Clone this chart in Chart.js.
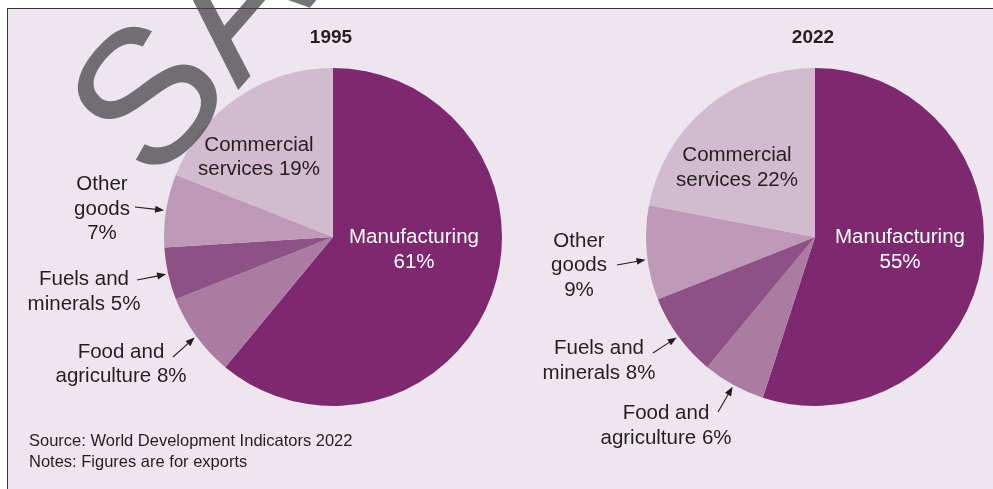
<!DOCTYPE html>
<html>
<head>
<meta charset="utf-8">
<script src="https://cdn.jsdelivr.net/npm/chart.js@4"></script>
<style>
  html, body { margin: 0; padding: 0; width: 993px; height: 489px; overflow: hidden; background: #ffffff; }
  body { position: relative; font-family: "Liberation Sans", Arial, Helvetica, sans-serif; }
  #frame { position: absolute; left: 7px; top: 8px; width: 1000px; height: 500px; background: #EEE6EE;
           border-top: 1.5px solid #333333; border-left: 1.5px solid #333333; }
  canvas { position: absolute; top: 0; }
  #pie1995 { left: 0; }
  #pie2022 { left: 520px; }
  .note { position: absolute; left: 29px; font-size: 16.5px; line-height: 21px; color: #231F20; white-space: nowrap; }
</style>
</head>
<body>
<div id="frame"></div>
<canvas id="pie1995" width="510" height="489"></canvas>
<canvas id="pie2022" width="473" height="489"></canvas>
<div class="note" style="top:430px">Source: World Development Indicators 2022<br>Notes: Figures are for exports</div>
<script>
// Export shares by sector, per cent
const categories = ['Manufacturing', 'Food and agriculture', 'Fuels and minerals', 'Other goods', 'Commercial services'];
const shares1995 = [61, 8, 5, 7, 19];
const shares2022 = [55, 6, 8, 9, 22];
const years = ['1995', '2022'];

// How each sector label is broken into lines ({v} is replaced by the share)
const labelLines = [
  ['Manufacturing', '{v}%'],
  ['Food and', 'agriculture {v}%'],
  ['Fuels and', 'minerals {v}%'],
  ['Other', 'goods', '{v}%'],
  ['Commercial', 'services {v}%']
];

const sliceColors = ['#7E2870', '#AB7CA2', '#8E5186', '#BE99B8', '#D3BBCF'];
const FONT = '"Liberation Sans", Arial, Helvetica, sans-serif';
const INK = '#231F20';

// Label placement relative to the pie centre; "from" is the arrow tail,
// the arrow head lands on the slice edge at fraction "at" of its angle.
const spots1995 = [
  { dx: 81, dy: 13, light: true },
  { dx: -212, dy: 127.5, from: [-160, 120] },
  { dx: -249, dy: 55, from: [-196, 43] },
  { dx: -231, dy: -28, from: [-198, -30] },
  { dx: -74, dy: -79.5 }
];
const spots2022 = [
  { dx: 85, dy: 13, light: true },
  { dx: -149, dy: 189, from: [-97, 175] },
  { dx: -216, dy: 124, from: [-162, 116] },
  { dx: -236, dy: 28.5, from: [-198, 28], at: 0.43 },
  { dx: -78, dy: -69 }
];

function drawArrow(ctx, fx, fy, tx, ty) {
  const ang = Math.atan2(ty - fy, tx - fx);
  const head = 9, half = 3.5;
  const bx = tx - Math.cos(ang) * head, by = ty - Math.sin(ang) * head;
  ctx.strokeStyle = INK;
  ctx.fillStyle = INK;
  ctx.lineWidth = 1.1;
  ctx.beginPath();
  ctx.moveTo(fx, fy);
  ctx.lineTo(bx + Math.cos(ang), by + Math.sin(ang));
  ctx.stroke();
  ctx.beginPath();
  ctx.moveTo(tx, ty);
  ctx.lineTo(bx + Math.sin(ang) * half, by - Math.cos(ang) * half);
  ctx.lineTo(bx - Math.sin(ang) * half, by + Math.cos(ang) * half);
  ctx.closePath();
  ctx.fill();
}

// Title, sector labels, arrows (and the sheet's stamp) drawn over the slices
function labelPlugin(title, spots, stamp) {
  return {
    id: 'sliceLabels',
    afterDatasetsDraw(chart) {
      const ctx = chart.ctx;
      const meta = chart.getDatasetMeta(0);
      const values = chart.data.datasets[0].data;
      const cx = meta.data[0].x, cy = meta.data[0].y;
      ctx.save();

      if (stamp) {
        ctx.save();
        ctx.translate(stamp.x, stamp.y);
        ctx.rotate(stamp.angle * Math.PI / 180);
        ctx.font = stamp.size + 'px ' + FONT;
        ctx.fillStyle = 'rgba(70,70,73,0.75)';
        ctx.textAlign = 'left';
        ctx.textBaseline = 'alphabetic';
        ctx.fillText(stamp.text, 0, 0);
        ctx.restore();
      }

      ctx.textAlign = 'center';
      ctx.textBaseline = 'middle';
      ctx.fillStyle = INK;
      ctx.font = 'bold 19px ' + FONT;
      ctx.fillText(title, cx - 2, cy - 199);

      ctx.font = '20.5px ' + FONT;
      const lh = 24.5;
      spots.forEach((spot, i) => {
        const lines = labelLines[i].map(t => t.replace('{v}', values[i]));
        const top = cy + spot.dy - (lines.length - 1) * lh / 2;
        ctx.fillStyle = spot.light ? '#FFFFFF' : INK;
        lines.forEach((t, k) => ctx.fillText(t, cx + spot.dx, top + k * lh));
        if (spot.from) {
          const arc = meta.data[i];
          const frac = (typeof spot.at === 'number') ? spot.at : 0.5;
          const a = arc.startAngle + (arc.endAngle - arc.startAngle) * frac;
          const r = arc.outerRadius + 2;
          drawArrow(ctx, cx + spot.from[0], cy + spot.from[1], cx + Math.cos(a) * r, cy + Math.sin(a) * r);
        }
      });
      ctx.restore();
    }
  };
}

function makePie(id, shares, title, spots, padding, stamp) {
  return new Chart(document.getElementById(id), {
    type: 'pie',
    data: {
      labels: categories,
      datasets: [{ data: shares, backgroundColor: sliceColors, borderWidth: 0 }]
    },
    options: {
      responsive: false,
      animation: false,
      events: [],
      radius: 169,
      layout: { padding: padding },
      plugins: {
        legend: { display: false },
        tooltip: { enabled: false }
      }
    },
    plugins: [labelPlugin(title, spots, stamp)]
  });
}

makePie('pie1995', shares1995, years[0], spots1995,
  { left: 164, right: 8, top: 68, bottom: 83 },
  { text: 'SAMPLE', x: 154, y: 187, angle: -49, size: 192 });
makePie('pie2022', shares2022, years[1], spots2022,
  { left: 126, right: 9, top: 68, bottom: 83 }, null);
</script>
</body>
</html>
